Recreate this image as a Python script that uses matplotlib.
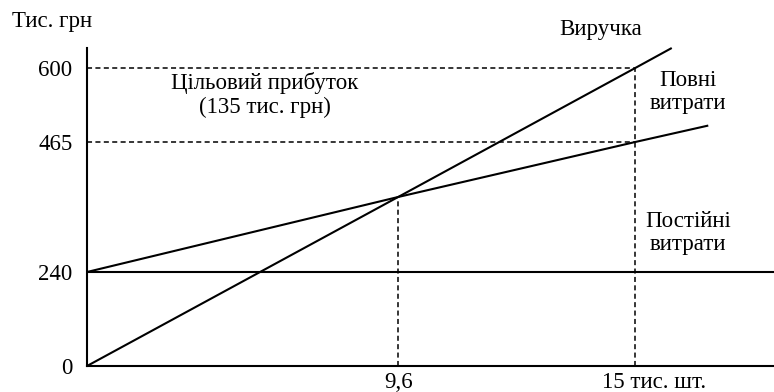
import numpy as np
import matplotlib
matplotlib.use("Agg")
import matplotlib.pyplot as plt
from matplotlib.transforms import ScaledTranslation

# Break-even chart data (thousand UAH vs thousand units)
revenue_q = [0, 9.6, 15, 16]
revenue = [0, 384, 600, 640]
total_cost_q = [0, 9.6, 15, 17]
total_cost = [240, 384, 465, 495]
fixed_cost = 240
break_even_q = 9.6
break_even_value = 384
target_q = 15
target_revenue = 600
target_cost = 465
y_ticks = [0, 240, 465, 600]
y_tick_labels = ["0", "240", "465", "600"]
x_ticks = [9.6, 15]
x_tick_labels = ["9,6", "15 тис. шт."]

plt.rcParams["font.family"] = ["Liberation Serif", "DejaVu Serif"]
FS = 16.5


def piecewise_scale(knots, marks, slope):
    """Schematic (not-to-scale) axis: piecewise-linear mapping through knots."""
    k = np.concatenate(([knots[0] - 1e4], knots, [knots[-1] + 1e4]))
    m = np.concatenate(([marks[0] - 1e4 * slope], marks, [marks[-1] + 1e4 * slope]))

    def fwd(v):
        return np.interp(v, k, m)

    def inv(p):
        return np.interp(p, m, k)

    return fwd, inv


fig = plt.figure(figsize=(7.74, 3.92), dpi=100)
ax = fig.add_axes([87 / 774, 26 / 392, 687 / 774, 318 / 392])

ax.set_xscale("function", functions=piecewise_scale(
    np.array([0, 9.6, 15]), np.array([0, 311, 548]), 36.5))
ax.set_yscale("function", functions=piecewise_scale(
    np.array([0, 240, 384, 465, 600, 640]), np.array([0, 94, 169, 224, 298, 318]), 0.5))
ax.set_xlim(0, 18.8)
ax.set_ylim(0, 640)

solid = dict(color="black", lw=1.5, solid_capstyle="butt")
dashed = dict(color="black", lw=1.1, linestyle=(0, (3.3, 2.2)))

ax.plot(revenue_q, revenue, clip_on=False, **solid)
ax.plot(total_cost_q, total_cost, **solid)
ax.axhline(fixed_cost, **solid)

ax.plot([0, target_q], [target_revenue, target_revenue], **dashed)
ax.plot([0, target_q], [target_cost, target_cost], **dashed)
ax.plot([target_q, target_q], [0, target_revenue], **dashed)
ax.plot([break_even_q, break_even_q], [0, break_even_value], **dashed)

for side in ("top", "right"):
    ax.spines[side].set_visible(False)
for side in ("left", "bottom"):
    ax.spines[side].set_linewidth(1.5)

ax.set_yticks(y_ticks)
ax.set_yticklabels(y_tick_labels, fontsize=FS)
ax.set_xticks(x_ticks)
ax.set_xticklabels(x_tick_labels, fontsize=FS)
ax.tick_params(axis="y", length=0, pad=10.5)
ax.tick_params(axis="x", length=0, pad=4.5)
ax.minorticks_off()
# the unit text trails the "15" tick
lbl = ax.get_xticklabels()[1]
lbl.set_transform(lbl.get_transform() + ScaledTranslation(19 / 100, 0, fig.dpi_scale_trans))

fig.text(12 / 774, 1 - 21 / 392, "Тис. грн", fontsize=FS, ha="left", va="center")
fig.text(601 / 774, 1 - 30 / 392, "Виручка", fontsize=FS, ha="center", va="center")
fig.text(688 / 774, 1 - 92 / 392, "Повні\nвитрати", fontsize=FS, ha="center",
         va="center", linespacing=1.18)
fig.text(688 / 774, 1 - 233 / 392, "Постійні\nвитрати", fontsize=FS, ha="center",
         va="center", linespacing=1.18)
fig.text(265 / 774, 1 - 95 / 392, "Цільовий прибуток\n(135 тис. грн)", fontsize=FS,
         ha="center", va="center", linespacing=1.18)

fig.savefig("out.png", dpi=100)
